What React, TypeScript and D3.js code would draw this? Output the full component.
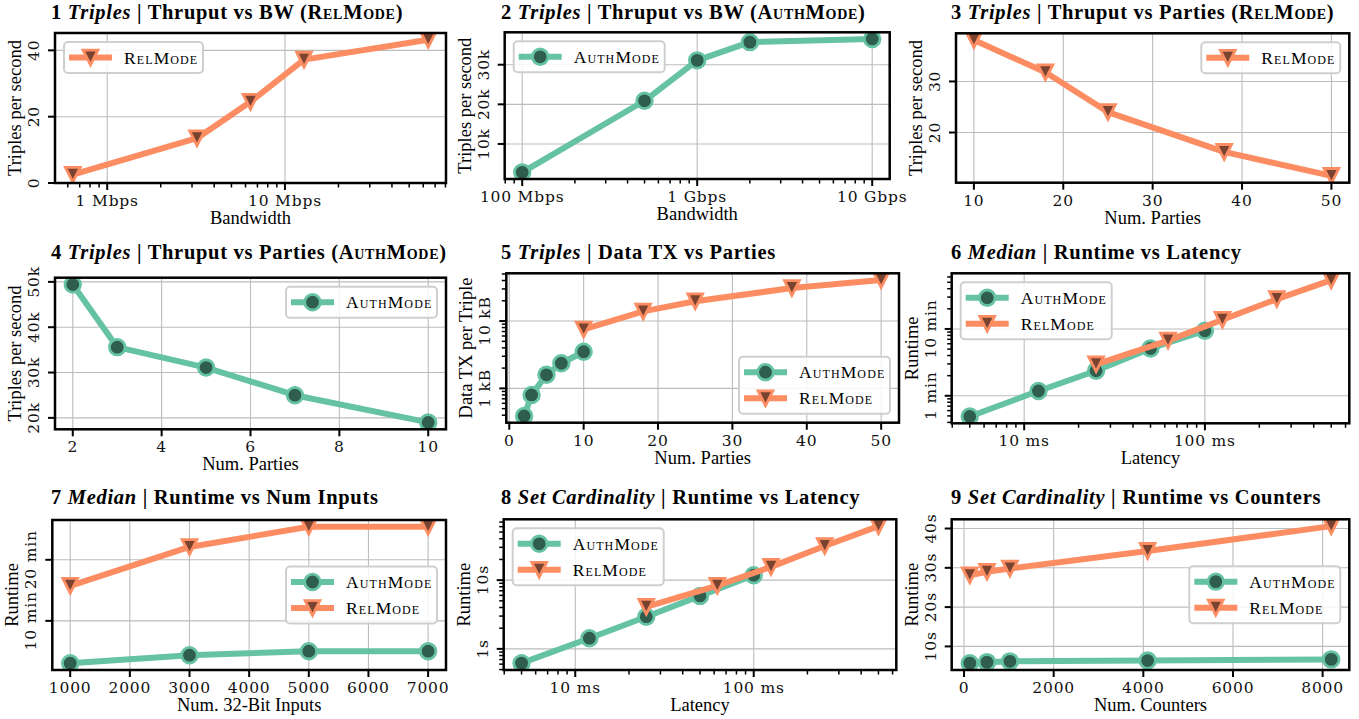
import React from 'react';
import * as d3 from 'd3';

// ---- data ----
// 1: throughput vs bandwidth (RelMode)
const bw1 = [0.64, 3.2, 6.4, 12.8, 64]; // Mbps
const thruRel1 = [2.5, 13.5, 24.5, 37.2, 43.2];
// 2: throughput vs bandwidth (AuthMode)
const bw2 = [100, 500, 1000, 2000, 10000]; // Mbps
const thruAuth2 = [2840, 20900, 31100, 35700, 36500];
// 3: throughput vs parties (RelMode)
const parties3 = [10, 18, 25, 38, 50];
const thruRel3 = [38.1, 31.8, 24.0, 16.2, 11.5];
// 4: throughput vs parties (AuthMode)
const parties4 = [2, 3, 5, 7, 10];
const thruAuth4 = [49400, 35600, 31100, 25000, 19000];
// 5: data per triple (kB)
const partiesAuth5 = [2, 3, 5, 7, 10];
const dataAuth5 = [0.39, 0.8, 1.59, 2.36, 3.5];
const partiesRel5 = [10, 18, 25, 38, 50];
const dataRel5 = [7.5, 13.9, 19.7, 30.9, 40.6];
// 6 & 8: latency (ms)
const latAuth = [5, 12, 25, 50, 100];
const latRel = [25, 62.5, 125, 250, 500];
const medianAuth6 = [0.49, 1.18, 2.37, 5.1, 9.4]; // min
const medianRel6 = [2.96, 6.7, 13.7, 28, 53.8];
// 7: runtime vs inputs (min)
const inputs7 = [1000, 3000, 5000, 7000];
const medianAuth7 = [3.07, 4.38, 5.03, 5.03];
const medianRel7 = [15.74, 22.1, 25.4, 25.4];
// 8: set cardinality runtime (s)
const cardAuth8 = [0.62, 1.43, 2.94, 5.9, 11.8];
const cardRel8 = [4.1, 8.3, 15.6, 31.4, 61];
// 9: runtime vs counters (s)
const counters9 = [128, 512, 1024, 4096, 8192];
const cardAuth9 = [5.74, 6.0, 6.2, 6.4, 6.7];
const cardRel9 = [28.1, 29.0, 29.8, 34.3, 40.6];

// tick values and labels
const bwTicks1 = [1, 10];
const bwLabels1 = ['1 Mbps', '10 Mbps'];
const bwTicks2 = [100, 1000, 10000];
const bwLabels2 = ['100 Mbps', '1 Gbps', '10 Gbps'];
const thruTicks1 = [0, 20, 40];
const thruTicks2 = [10000, 20000, 30000];
const thruLabels2 = ['10k', '20k', '30k'];
const thruTicks3 = [20, 30];
const partyTicks3 = [10, 20, 30, 40, 50];
const thruTicks4 = [20000, 30000, 40000, 50000];
const thruLabels4 = ['20k', '30k', '40k', '50k'];
const partyTicks4 = [2, 4, 6, 8, 10];
const partyTicks5 = [0, 10, 20, 30, 40, 50];
const dataTicks5 = [1, 10];
const dataLabels5 = ['1 kB', '10 kB'];
const latTicks = [10, 100];
const latLabels = ['10 ms', '100 ms'];
const minTicks6 = [1, 10];
const minLabels6 = ['1 min', '10 min'];
const inputTicks7 = [1000, 2000, 3000, 4000, 5000, 6000, 7000];
const minTicks7 = [10, 20];
const minLabels7 = ['10 min', '20 min'];
const secTicks8 = [1, 10];
const secLabels8 = ['1s', '10s'];
const counterTicks9 = [0, 2000, 4000, 6000, 8000];
const secTicks9 = [10, 20, 30, 40];
const secLabels9 = ['10s', '20s', '30s', '40s'];

const STYLE = {
  AuthMode: { line: '#66c2a5', face: '#2f5d4e', marker: 'o' },
  RelMode: { line: '#fc8d62', face: '#7a4330', marker: 'v' },
};
const LABEL_W = { AuthMode: 82, RelMode: 70 };

const SERIF = "'Liberation Serif', 'Times New Roman', serif";
const TICKFONT = "'DejaVu Serif', serif";

type Mode = 'AuthMode' | 'RelMode';
interface Series { name: Mode; x: number[]; y: number[] }
interface PanelCfg {
  num: number; italic: string; rest: string; mode?: Mode;
  box: [number, number, number, number];
  titleX: number; titleY: number;
  xLog?: boolean; yLog?: boolean;
  xTicks: number[]; xTickLabels?: string[];
  yTicks: number[]; yTickLabels?: string[];
  xLabel: string; yLabel: string;
  series: Series[];
  legend: 'ul' | 'ur' | 'lr' | 'cr';
  yMin?: number;
}

const panels: PanelCfg[] = [
  { num: 1, italic: 'Triples', rest: ' | Thruput vs BW (', mode: 'RelMode', box: [55, 33, 446, 183], titleX: 51, titleY: 18.5,
    xLog: true, xTicks: bwTicks1, xTickLabels: bwLabels1, yTicks: thruTicks1, xLabel: 'Bandwidth', yLabel: 'Triples per second',
    series: [{ name: 'RelMode', x: bw1, y: thruRel1 }], legend: 'ul', yMin: 0 },
  { num: 2, italic: 'Triples', rest: ' | Thruput vs BW (', mode: 'AuthMode', box: [504.7, 32.3, 889.7, 179], titleX: 501, titleY: 18.5,
    xLog: true, xTicks: bwTicks2, xTickLabels: bwLabels2, yTicks: thruTicks2, yTickLabels: thruLabels2, xLabel: 'Bandwidth', yLabel: 'Triples per second',
    series: [{ name: 'AuthMode', x: bw2, y: thruAuth2 }], legend: 'ul' },
  { num: 3, italic: 'Triples', rest: ' | Thruput vs Parties (', mode: 'RelMode', box: [956, 33.3, 1349.3, 182.7], titleX: 951, titleY: 18.5,
    xTicks: partyTicks3, yTicks: thruTicks3, xLabel: 'Num. Parties', yLabel: 'Triples per second',
    series: [{ name: 'RelMode', x: parties3, y: thruRel3 }], legend: 'ur' },
  { num: 4, italic: 'Triples', rest: ' | Thruput vs Parties (', mode: 'AuthMode', box: [55, 277.7, 446, 429.3], titleX: 51, titleY: 258.5,
    xTicks: partyTicks4, yTicks: thruTicks4, yTickLabels: thruLabels4, xLabel: 'Num. Parties', yLabel: 'Triples per second',
    series: [{ name: 'AuthMode', x: parties4, y: thruAuth4 }], legend: 'ur' },
  { num: 5, italic: 'Triples', rest: ' | Data TX vs Parties', box: [506.3, 273.3, 899, 422.7], titleX: 501, titleY: 258.5,
    yLog: true, xTicks: partyTicks5, yTicks: dataTicks5, yTickLabels: dataLabels5, xLabel: 'Num. Parties', yLabel: 'Data TX per Triple',
    series: [{ name: 'AuthMode', x: partiesAuth5, y: dataAuth5 }, { name: 'RelMode', x: partiesRel5, y: dataRel5 }], legend: 'lr' },
  { num: 6, italic: 'Median', rest: ' | Runtime vs Latency', box: [951.7, 273.3, 1349.3, 423.3], titleX: 951, titleY: 258.5,
    xLog: true, yLog: true, xTicks: latTicks, xTickLabels: latLabels, yTicks: minTicks6, yTickLabels: minLabels6, xLabel: 'Latency', yLabel: 'Runtime',
    series: [{ name: 'AuthMode', x: latAuth, y: medianAuth6 }, { name: 'RelMode', x: latRel, y: medianRel6 }], legend: 'ul' },
  { num: 7, italic: 'Median', rest: ' | Runtime vs Num Inputs', box: [52.3, 520, 446, 670], titleX: 51, titleY: 503.5,
    xTicks: inputTicks7, yTicks: minTicks7, yTickLabels: minLabels7, xLabel: 'Num. 32-Bit Inputs', yLabel: 'Runtime',
    series: [{ name: 'AuthMode', x: inputs7, y: medianAuth7 }, { name: 'RelMode', x: inputs7, y: medianRel7 }], legend: 'cr' },
  { num: 8, italic: 'Set Cardinality', rest: ' | Runtime vs Latency', box: [503.7, 519.3, 896.3, 670], titleX: 501, titleY: 503.5,
    xLog: true, yLog: true, xTicks: latTicks, xTickLabels: latLabels, yTicks: secTicks8, yTickLabels: secLabels8, xLabel: 'Latency', yLabel: 'Runtime',
    series: [{ name: 'AuthMode', x: latAuth, y: cardAuth8 }, { name: 'RelMode', x: latRel, y: cardRel8 }], legend: 'ul' },
  { num: 9, italic: 'Set Cardinality', rest: ' | Runtime vs Counters', box: [951.7, 519.3, 1349.3, 670], titleX: 951, titleY: 503.5,
    xTicks: counterTicks9, yTicks: secTicks9, yTickLabels: secLabels9, xLabel: 'Num. Counters', yLabel: 'Runtime',
    series: [{ name: 'AuthMode', x: counters9, y: cardAuth9 }, { name: 'RelMode', x: counters9, y: cardRel9 }], legend: 'cr' },
];

// matplotlib-like 5% margins
function padDomain(vals: number[], log?: boolean): [number, number] {
  const [a, b] = d3.extent(vals) as [number, number];
  if (log) {
    const la = Math.log10(a), lb = Math.log10(b), m = (lb - la) * 0.05;
    return [10 ** (la - m), 10 ** (lb + m)];
  }
  const m = (b - a) * 0.05;
  return [a - m, b + m];
}

function minorTicks(d: number[]) {
  const out: number[] = [];
  for (let e = Math.floor(Math.log10(d[0])); e <= Math.ceil(Math.log10(d[1])); e++) {
    for (let k = 2; k <= 9; k++) {
      const v = k * 10 ** e;
      if (v >= d[0] * 0.99 && v <= d[1] * 1.01) out.push(v);
    }
  }
  return out;
}

const Marker = ({ kind, x, y, s }: { kind: string; x: number; y: number; s: typeof STYLE.AuthMode }) => {
  if (kind === 'o') return <circle cx={x} cy={y} r={7.8} fill={s.face} stroke={s.line} strokeWidth={2.8} />;
  const h = 7.4;
  return <path d={`M${x},${y + h}L${x - h},${y - h}L${x + h},${y - h}Z`} fill={s.face} stroke={s.line} strokeWidth={2.8} strokeLinejoin="miter" />;
};

const Panel = ({ cfg }: { cfg: PanelCfg }) => {
  const [l, t, r, b] = cfg.box;
  const xd = padDomain(cfg.series.flatMap((s) => s.x), cfg.xLog);
  let yd = padDomain(cfg.series.flatMap((s) => s.y), cfg.yLog);
  if (cfg.yMin !== undefined) yd = [cfg.yMin, yd[1]];
  const xs = (cfg.xLog ? d3.scaleLog() : d3.scaleLinear()).domain(xd).range([l, r]);
  const ys = (cfg.yLog ? d3.scaleLog() : d3.scaleLinear()).domain(yd).range([b, t]);
  const path = (s: Series) =>
    d3.line<[number, number]>().x((d) => xs(d[0])).y((d) => ys(d[1]))(s.x.map((v, i) => [v, s.y[i]] as [number, number])) as string;

  const xMinor = cfg.xLog ? minorTicks(xd) : [];
  const yMinor = cfg.yLog ? minorTicks(yd) : [];
  const clipId = `clip-${cfg.num}`;

  const n = cfg.series.length;
  const lw = 69 + Math.max(...cfg.series.map((s) => LABEL_W[s.name]));
  const lh = 5 + 26 * n;
  let lx = r - 9 - lw, ly = t + 9;
  if (cfg.legend === 'ul') lx = l + 9;
  if (cfg.legend === 'lr') ly = b - 9 - lh;
  if (cfg.legend === 'cr') ly = (t + b) / 2 - lh / 2;

  return (
    <g>
      <defs>
        <clipPath id={clipId}><rect x={l} y={t} width={r - l} height={b - t} /></clipPath>
      </defs>
      {/* title */}
      <text x={cfg.titleX} y={cfg.titleY} fontFamily={SERIF} fontWeight="bold" fontSize={20.5} letterSpacing={0.7}>
        <tspan>{`${cfg.num} `}</tspan>
        <tspan fontStyle="italic">{cfg.italic}</tspan>
        <tspan>{cfg.rest}</tspan>
        {cfg.mode && <tspan style={{ fontVariant: 'small-caps' }}>{cfg.mode}</tspan>}
        {cfg.mode && <tspan>)</tspan>}
      </text>
      {/* grid */}
      <g stroke="#bcbcbc" strokeWidth={1.1}>
        {cfg.xTicks.filter((v) => v >= xd[0] && v <= xd[1]).map((v) => <line key={`gx${v}`} x1={xs(v)} x2={xs(v)} y1={t} y2={b} />)}
        {cfg.yTicks.filter((v) => v >= yd[0] && v <= yd[1]).map((v) => <line key={`gy${v}`} y1={ys(v)} y2={ys(v)} x1={l} x2={r} />)}
      </g>
      {/* series */}
      <g clipPath={`url(#${clipId})`}>
        {cfg.series.map((s) => {
          const st = STYLE[s.name];
          return (
            <g key={s.name}>
              <path d={path(s)} fill="none" stroke={st.line} strokeWidth={6} strokeLinejoin="round" />
              {s.x.map((v, i) => <Marker key={i} kind={st.marker} x={xs(v)} y={ys(s.y[i])} s={st} />)}
            </g>
          );
        })}
      </g>
      {/* ticks */}
      <g stroke="#000">
        {cfg.xTicks.map((v) => <line key={`tx${v}`} x1={xs(v)} x2={xs(v)} y1={b} y2={b + 7} strokeWidth={2} />)}
        {xMinor.map((v) => <line key={`mx${v}`} x1={xs(v)} x2={xs(v)} y1={b} y2={b + 4.5} strokeWidth={1.5} />)}
        {cfg.yTicks.map((v) => <line key={`ty${v}`} y1={ys(v)} y2={ys(v)} x1={l} x2={l - 7} strokeWidth={2} />)}
        {yMinor.map((v) => <line key={`my${v}`} y1={ys(v)} y2={ys(v)} x1={l} x2={l - 4.5} strokeWidth={1.5} />)}
      </g>
      <g fontFamily={TICKFONT} fontSize={15.5} fill="#111">
        {cfg.xTicks.map((v, i) => (
          <text key={`lx${v}`} x={xs(v)} y={b + 23} textAnchor="middle" letterSpacing={0.8}>{cfg.xTickLabels ? cfg.xTickLabels[i] : String(v)}</text>
        ))}
        {cfg.yTicks.map((v, i) => (
          <text key={`ly${v}`} transform={`translate(${l - 16},${ys(v)}) rotate(-90)`} textAnchor="middle" letterSpacing={0.8}>
            {cfg.yTickLabels ? cfg.yTickLabels[i] : String(v)}
          </text>
        ))}
      </g>
      <text x={(l + r) / 2} y={b + 41} textAnchor="middle" fontFamily={SERIF} fontSize={18.5}>{cfg.xLabel}</text>
      <text transform={`translate(${l - 34},${(t + b) / 2}) rotate(-90)`} textAnchor="middle" fontFamily={SERIF} fontSize={18.5}>{cfg.yLabel}</text>
      {/* legend */}
      <g>
        <rect x={lx} y={ly} width={lw} height={lh} rx={4} fill="#fff" fillOpacity={0.85} stroke="#cfcfcf" strokeWidth={2} />
        {cfg.series.map((s, i) => {
          const st = STYLE[s.name];
          const cy = ly + 15.5 + 26 * i;
          return (
            <g key={s.name}>
              <line x1={lx + 5} x2={lx + 48} y1={cy} y2={cy} stroke={st.line} strokeWidth={6} />
              <Marker kind={st.marker} x={lx + 26.5} y={cy} s={st} />
              <text x={lx + 60} y={cy + 6} fontFamily={SERIF} fontSize={17.5} letterSpacing={1.1} style={{ fontVariant: 'small-caps' }}>{s.name}</text>
            </g>
          );
        })}
      </g>
      {/* spines */}
      <rect x={l} y={t} width={r - l} height={b - t} fill="none" stroke="#000" strokeWidth={2.5} />
    </g>
  );
};

export default function App() {
  return (
    <svg width={1359} height={719} style={{ position: 'absolute', left: 0, top: 0 }}>
      <rect width={1359} height={719} fill="#fff" />
      {panels.map((p) => <Panel key={p.num} cfg={p} />)}
    </svg>
  );
}
